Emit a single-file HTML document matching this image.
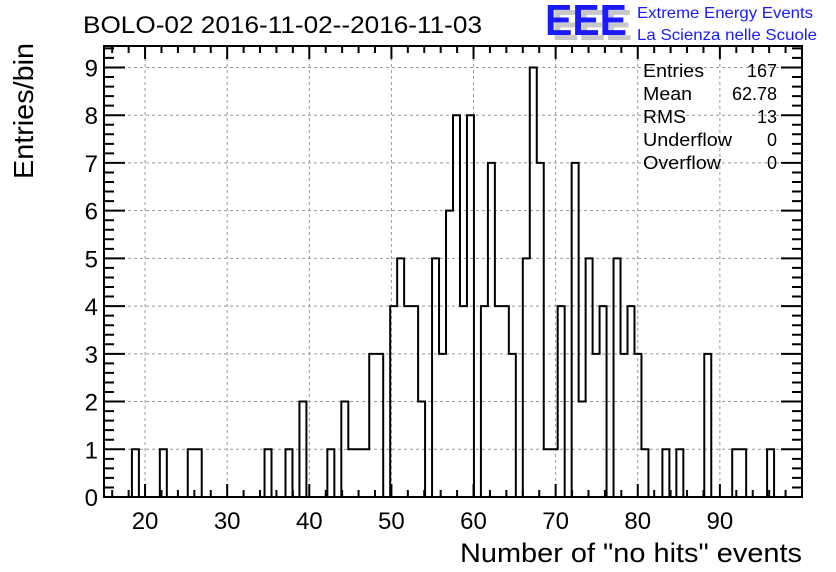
<!DOCTYPE html>
<html><head><meta charset="utf-8"><style>
body{margin:0;background:#fff;}
svg{display:block;font-family:"Liberation Sans",Arial,sans-serif;}
</style></head><body>
<svg id="chart" width="836" height="572" viewBox="0 0 836 572">
<g id="grid"></g>
<g id="ticks"></g>
<g id="labels"></g>
<path id="hist" fill="none" stroke="#000" stroke-width="2"/>
<rect x="104" y="46" width="698" height="451" fill="none" stroke="#000" stroke-width="2"/>
<text x="83" y="33" font-size="24" textLength="399" lengthAdjust="spacingAndGlyphs">BOLO-02 2016-11-02--2016-11-03</text>
<g>
<text x="552" y="40" font-size="44" font-weight="bold" fill="#c8c8c8" textLength="80" lengthAdjust="spacingAndGlyphs">EEE</text>
<text x="545" y="35" font-size="44" font-weight="bold" fill="#1a1aff" textLength="82" lengthAdjust="spacingAndGlyphs">EEE</text>
<text x="637" y="18" font-size="16" fill="#1a1aff" textLength="176" lengthAdjust="spacingAndGlyphs">Extreme Energy Events</text>
<text x="637" y="40" font-size="16" fill="#1a1aff" textLength="180" lengthAdjust="spacingAndGlyphs">La Scienza nelle Scuole</text>
</g>
<g font-size="18">
<text x="643" y="77" textLength="61" lengthAdjust="spacingAndGlyphs">Entries</text><text x="777" y="77" text-anchor="end">167</text>
<text x="643" y="100" textLength="49" lengthAdjust="spacingAndGlyphs">Mean</text><text x="777" y="100" text-anchor="end">62.78</text>
<text x="643" y="123" textLength="43" lengthAdjust="spacingAndGlyphs">RMS</text><text x="777" y="123" text-anchor="end">13</text>
<text x="643" y="146" textLength="89" lengthAdjust="spacingAndGlyphs">Underflow</text><text x="777" y="146" text-anchor="end">0</text>
<text x="643" y="169" textLength="78" lengthAdjust="spacingAndGlyphs">Overflow</text><text x="777" y="169" text-anchor="end">0</text>
</g>
<text x="802" y="562" font-size="27" text-anchor="end" textLength="342" lengthAdjust="spacingAndGlyphs">Number of "no hits" events</text>
<text transform="translate(33,43) rotate(-90)" font-size="28" text-anchor="end" textLength="136" lengthAdjust="spacingAndGlyphs">Entries/bin</text>
</svg>
<script>
const binLow = 15;
const binHigh = 100;
const nBins = 100;
const binIndices = [4,8,12,13,23,26,28,32,34,35,36,37,38,39,41,42,43,44,45,47,48,49,50,51,52,54,55,56,57,58,60,61,62,63,64,65,67,68,69,70,71,73,74,75,76,77,80,82,86,90,91,95];
const binCounts  = [1,1,1,1,1,1,2,1,2,1,1,1,3,3,4,5,4,4,2,5,3,6,8,4,8,4,7,4,4,3,5,9,7,1,1,4,7,2,5,3,4,5,3,4,3,1,1,1,3,1,1,1];
const xTicks = [20,30,40,50,60,70,80,90];
const yTicks = [0,1,2,3,4,5,6,7,8,9];
const X0=104, X1=802, Y0=497, Y1=46, yMax=9.45;
function xs(v){return X0+(v-binLow)/(binHigh-binLow)*(X1-X0);}
function ys(v){return Y0-v/yMax*(Y0-Y1);}
const NS="http://www.w3.org/2000/svg";
function mk(tag,attrs,parent){const e=document.createElementNS(NS,tag);for(const k in attrs)e.setAttribute(k,attrs[k]);document.getElementById(parent).appendChild(e);return e;}
const counts=new Array(nBins).fill(0);
binIndices.forEach((b,i)=>{counts[b]=binCounts[i];});
const w=(binHigh-binLow)/nBins;
let d="M"+xs(binLow)+","+ys(0);
for(let i=0;i<nBins;i++){const a=xs(binLow+i*w),b=xs(binLow+(i+1)*w),y=ys(counts[i]);d+=" L"+a+","+y+" L"+b+","+y;}
d+=" L"+xs(binHigh)+","+ys(0);
document.getElementById('hist').setAttribute('d',d);
xTicks.forEach(v=>{
  const l=mk('line',{x1:xs(v),x2:xs(v),y1:Y1,y2:Y0,stroke:'#999','stroke-dasharray':'3,3','stroke-width':1},'grid');
  
  
  const t=mk('text',{x:xs(v),y:529,'font-size':24,'text-anchor':'middle'},'labels');
  
  
  t.textContent=v;
});
yTicks.forEach(v=>{
  if(v>0){
    const l=mk('line',{x1:X0,x2:X1,y1:ys(v),y2:ys(v),stroke:'#999','stroke-dasharray':'3,3','stroke-width':1},'grid');
    
    
  }
  const t=mk('text',{x:98,y:ys(v)+9,'font-size':24,'text-anchor':'end'},'labels');
  
  
  t.textContent=v;
});
let td="";
for(let v=16;v<=100;v+=2){const x=xs(v);const L=(v%10===0)?13:7;td+=`M${x},${Y0}v${-L}M${x},${Y1}v${L}`;}
for(let k=0;k*0.2<=yMax;k++){const v=k*0.2;const y=ys(v);const L=(k%5===0)?21:10;td+=`M${X0},${y}h${L}M${X1},${y}h${-L}`;}
const tp=mk('path',{d:td,stroke:'#000','stroke-width':2,fill:'none'},'ticks');


</script>
</body></html>
